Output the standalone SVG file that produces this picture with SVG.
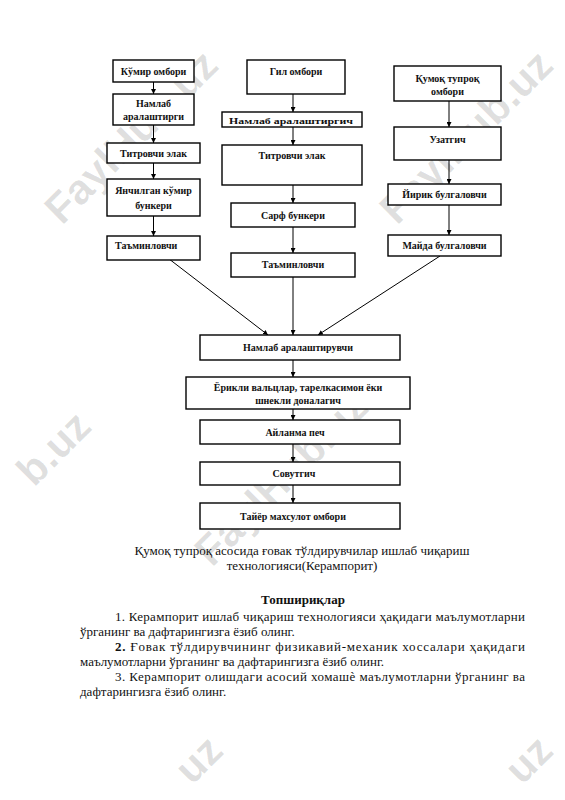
<svg xmlns="http://www.w3.org/2000/svg" width="565" height="800" viewBox="0 0 565 800">
<style>
.bx{fill:#fff;stroke:#000;stroke-width:1.4}
.t{font-family:"Liberation Serif","Times New Roman",serif;font-weight:bold;font-size:10px;fill:#111;text-anchor:middle}
.ln{stroke:#000;stroke-width:1;fill:none}
.cap{font-family:"Liberation Serif","Times New Roman",serif;font-size:13px;fill:#111}
.wm{font-family:"Liberation Sans",Arial,sans-serif;font-weight:bold;font-size:42px;fill:#000;fill-opacity:0.13}
</style>
<defs>
<marker id="ah" viewBox="0 0 10 10" refX="10" refY="5" markerWidth="5" markerHeight="5" orient="auto" markerUnits="userSpaceOnUse">
<path d="M0,0 L10,5 L0,10 z" fill="#000"/>
</marker>
</defs>
<rect width="565" height="800" fill="#fff"/>
<g id="watermarks">
<text class="wm" transform="translate(62,226) rotate(-45)">FaylHub.uz</text>
<text class="wm" transform="translate(397,226) rotate(-45)">FaylHub.uz</text>
<text class="wm" transform="translate(34,488) rotate(-45)">b.uz</text>
<text class="wm" transform="translate(212,568) rotate(-45)">FaylHub.uz</text>
<text class="wm" transform="translate(192,786) rotate(-45)">uz</text>
<text class="wm" transform="translate(522,786) rotate(-45)">uz</text>
</g>
<g id="connectors">
<line class="ln" x1="153.5" y1="82" x2="153.5" y2="94" marker-end="url(#ah)"/>
<line class="ln" x1="153.5" y1="125" x2="153.5" y2="143" marker-end="url(#ah)"/>
<line class="ln" x1="153.5" y1="163" x2="153.5" y2="179" marker-end="url(#ah)"/>
<line class="ln" x1="153.5" y1="216" x2="153.5" y2="236" marker-end="url(#ah)"/>
<line class="ln" x1="160" y1="252" x2="268" y2="335" marker-end="url(#ah)"/>
<line class="ln" x1="293" y1="94" x2="293" y2="112" marker-end="url(#ah)"/>
<line class="ln" x1="293" y1="127" x2="293" y2="145" marker-end="url(#ah)"/>
<line class="ln" x1="293" y1="185" x2="293" y2="203" marker-end="url(#ah)"/>
<line class="ln" x1="293" y1="227" x2="293" y2="253" marker-end="url(#ah)"/>
<line class="ln" x1="293" y1="277" x2="293" y2="335" marker-end="url(#ah)"/>
<line class="ln" x1="449" y1="101" x2="449" y2="127" marker-end="url(#ah)"/>
<line class="ln" x1="449" y1="160" x2="449" y2="184" marker-end="url(#ah)"/>
<line class="ln" x1="449" y1="205" x2="449" y2="235" marker-end="url(#ah)"/>
<line class="ln" x1="440" y1="256" x2="318" y2="335" marker-end="url(#ah)"/>
<line class="ln" x1="293" y1="360" x2="293" y2="377" marker-end="url(#ah)"/>
<line class="ln" x1="293" y1="409" x2="293" y2="420" marker-end="url(#ah)"/>
<line class="ln" x1="293" y1="444" x2="293" y2="462" marker-end="url(#ah)"/>
<line class="ln" x1="293" y1="485" x2="293" y2="503" marker-end="url(#ah)"/>
</g>
<g id="n1"><rect class="bx" x="113" y="60" width="81" height="22"/><text class="t" x="153.5" y="75">Кўмир омбори</text></g>
<g id="n2"><rect class="bx" x="113" y="94" width="81" height="31"/><text class="t" x="153.5" y="107">Намлаб</text><text class="t" x="153.5" y="120">аралаштирги</text></g>
<g id="n3"><rect class="bx" x="107" y="143" width="93" height="20"/><text class="t" x="153.5" y="157">Титровчи элак</text></g>
<g id="n4"><rect class="bx" x="107" y="179" width="93" height="37"/><text class="t" x="153.5" y="194">Янчилган кўмир</text><text class="t" x="153.5" y="209">бункери</text></g>
<g id="n5"><rect class="bx" x="107" y="236" width="93" height="24"/><text class="t" x="115" y="249" style="text-anchor:start">Таъминловчи</text></g>
<g id="g1"><rect class="bx" x="247" y="60" width="98" height="34"/><text class="t" x="296" y="75">Гил омбори</text></g>
<g id="g2"><rect class="bx" x="222" y="112" width="140" height="15"/><text class="t" transform="translate(291,124) scale(1,0.75)" x="0" y="0" font-size="9" textLength="124" lengthAdjust="spacingAndGlyphs">Намлаб аралаштиргич</text></g>
<g id="g3"><rect class="bx" x="222" y="145" width="140" height="40"/><text class="t" x="292" y="159">Титровчи элак</text></g>
<g id="g4"><rect class="bx" x="231" y="203" width="124" height="24"/><text class="t" x="293" y="219">Сарф  бункери</text></g>
<g id="g5"><rect class="bx" x="231" y="253" width="124" height="24"/><text class="t" x="293" y="268">Таъминловчи</text></g>
<g id="q1"><rect class="bx" x="394" y="66" width="107" height="35"/><text class="t" x="447.5" y="82">Қумоқ тупроқ</text><text class="t" x="447.5" y="95">омбори</text></g>
<g id="q2"><rect class="bx" x="394" y="127" width="107" height="33"/><text class="t" x="447.5" y="143">Узатгич</text></g>
<g id="q3"><rect class="bx" x="388" y="184" width="113" height="21"/><text class="t" x="444.5" y="198">Йирик булгаловчи</text></g>
<g id="q4"><rect class="bx" x="388" y="235" width="113" height="21"/><text class="t" x="444.5" y="249">Майда булгаловчи</text></g>
<g id="m1"><rect class="bx" x="200" y="335" width="200" height="25"/><text class="t" x="298" y="351">Намлаб аралаштирувчи</text></g>
<g id="m2"><rect class="bx" x="186" y="377" width="224" height="32"/><text class="t" x="298" y="391">Ёрикли вальцлар, тарелкасимон ёки</text><text class="t" x="298" y="404">шнекли доналагич</text></g>
<g id="m3"><rect class="bx" x="200" y="420" width="200" height="24"/><text class="t" x="295" y="436">Айланма печ</text></g>
<g id="m4"><rect class="bx" x="200" y="462" width="200" height="23"/><text class="t" x="294" y="477">Совутгич</text></g>
<g id="m5"><rect class="bx" x="200" y="503" width="200" height="26"/><text class="t" x="293" y="520">Тайёр махсулот омбори</text></g>
<g id="caption">
<text class="cap" x="302" y="555" text-anchor="middle">Қумоқ тупроқ асосида ғовак тўлдирувчилар ишлаб чиқариш</text>
<text class="cap" x="302" y="570" text-anchor="middle">технологияси(Керампорит)</text>
<text class="cap" x="303" y="604" text-anchor="middle" font-weight="bold">Топшириқлар</text>
<text class="cap" x="115" y="621" textLength="410" lengthAdjust="spacing">1. Керампорит ишлаб чиқариш технологияси ҳақидаги маълумотларни</text>
<text class="cap" x="80" y="636">ўрганинг ва дафтарингизга ёзиб олинг.</text>
<text class="cap" x="115" y="651" textLength="410" lengthAdjust="spacing"><tspan font-weight="bold">2.</tspan> Ғовак тўлдирувчининг физикавий-механик хоссалари ҳақидаги</text>
<text class="cap" x="80" y="666">маълумотларни ўрганинг ва дафтарингизга ёзиб олинг.</text>
<text class="cap" x="115" y="681" textLength="410" lengthAdjust="spacing">3. Керампорит олишдаги асосий хомашѐ  маълумотларни ўрганинг ва</text>
<text class="cap" x="80" y="696">дафтарингизга ёзиб олинг.</text>
</g>
</svg>
